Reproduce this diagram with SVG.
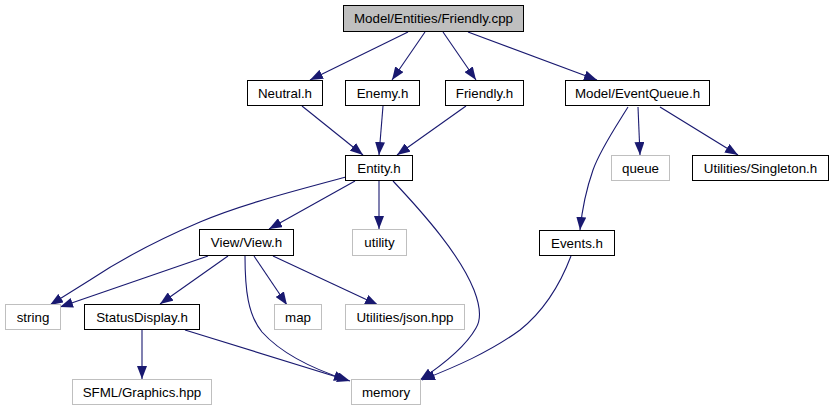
<svg xmlns="http://www.w3.org/2000/svg" width="833" height="411" viewBox="0 0 833 411">
<style>
.n rect{fill:#fff;stroke:#000;stroke-width:1}
.g rect{fill:#fff;stroke:#bfbfbf;stroke-width:1}
#root rect{fill:#bfbfbf;stroke:#000}
text{font-family:"Liberation Sans",Arial,sans-serif;font-size:13.33px;fill:#000;text-anchor:middle}
.e path{fill:none;stroke:#191970;stroke-width:1.1;marker-end:url(#a)}
</style>
<defs>
<marker id="a" viewBox="0 0 13 10" refX="13" refY="5" markerWidth="13" markerHeight="10" markerUnits="userSpaceOnUse" orient="auto">
<path d="M0,0 L13,5 L0,10 z" fill="#191970"/>
</marker>
</defs>
<rect width="833" height="411" fill="#fff"/>
<g class="e" id="edges">
<path d="M408,32 L310,80"/>
<path d="M425,32 L392,80"/>
<path d="M443,32 L476,80"/>
<path d="M468,32 L597,80"/>
<path d="M302,106 L363,155"/>
<path d="M383,106 L379,155"/>
<path d="M466,106 L397,155"/>
<path d="M346,177 C290,192 240,205 200,222 C160,239 120,260 90,280 L50,305"/>
<path d="M355,181 L269,229"/>
<path d="M379,181 L379,229"/>
<path d="M393,181 C425,215 460,255 474,290 C481,308 481,320 476,328 C466,346 444,364 420,380"/>
<path d="M571,256 C560,285 545,310 520,330 C490,352 455,367 422,380"/>
<path d="M628,107 C615,128 600,150 593,170 C586,190 582,210 580,230"/>
<path d="M638,107 L640,155"/>
<path d="M660,107 L738,155"/>
<path d="M208,256 L60,307"/>
<path d="M228,256 L160,304"/>
<path d="M245,256 C245,290 248,315 262,332 C280,352 310,368 347,380"/>
<path d="M254,256 L287,305"/>
<path d="M273,256 L378,305"/>
<path d="M142,330 L142,379"/>
<path d="M185,330 L350,381"/>
</g>
<g id="root" class="n"><rect x="343.5" y="5.5" width="180" height="26"/><text x="433.5" y="23">Model/Entities/Friendly.cpp</text></g>
<g id="neutral" class="n"><rect x="247.5" y="80.5" width="75" height="25"/><text x="285" y="97.5">Neutral.h</text></g>
<g id="enemy" class="n"><rect x="345.5" y="80.5" width="74" height="25"/><text x="382.5" y="97.5">Enemy.h</text></g>
<g id="friendlyh" class="n"><rect x="445.5" y="80.5" width="78" height="25"/><text x="484.5" y="97.5">Friendly.h</text></g>
<g id="eventqueue" class="n"><rect x="565.5" y="80.5" width="144" height="25"/><text x="637.5" y="97.5">Model/EventQueue.h</text></g>
<g id="entity" class="n"><rect x="345.5" y="155.5" width="67" height="25"/><text x="379" y="172.5">Entity.h</text></g>
<g id="queue" class="g"><rect x="611.5" y="155.5" width="58" height="25"/><text x="640.5" y="172.5">queue</text></g>
<g id="singleton" class="n"><rect x="692.5" y="155.5" width="136" height="25"/><text x="760.5" y="172.5">Utilities/Singleton.h</text></g>
<g id="view" class="n"><rect x="199.5" y="229.5" width="94" height="26"/><text x="246.5" y="247">View/View.h</text></g>
<g id="utility" class="g"><rect x="352.5" y="229.5" width="54" height="26"/><text x="379.5" y="247">utility</text></g>
<g id="events" class="n"><rect x="539.5" y="230.5" width="75" height="25"/><text x="577" y="247.5">Events.h</text></g>
<g id="string" class="g"><rect x="5.5" y="304.5" width="55" height="25"/><text x="33" y="321.5">string</text></g>
<g id="statusdisplay" class="n"><rect x="84.5" y="304.5" width="115" height="25"/><text x="142" y="321.5">StatusDisplay.h</text></g>
<g id="map" class="g"><rect x="274.5" y="304.5" width="47" height="25"/><text x="298" y="321.5">map</text></g>
<g id="json" class="g"><rect x="345.5" y="304.5" width="119" height="25"/><text x="405" y="321.5">Utilities/json.hpp</text></g>
<g id="sfml" class="g"><rect x="72.5" y="379.5" width="139" height="25"/><text x="142" y="396.5">SFML/Graphics.hpp</text></g>
<g id="memory" class="g"><rect x="351.5" y="379.5" width="69" height="25"/><text x="386" y="396.5">memory</text></g>
</svg>
